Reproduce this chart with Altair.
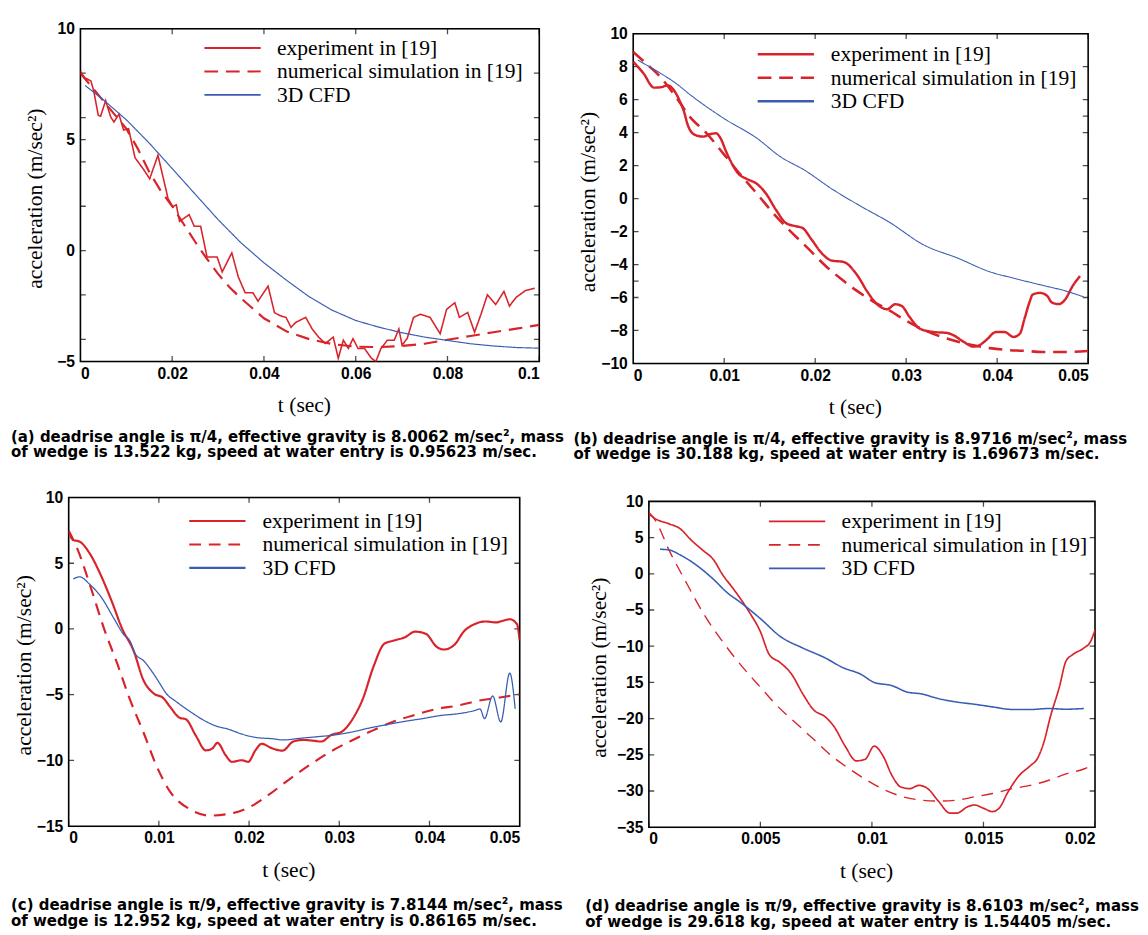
import altair as alt
import pandas as pd

SERIES = ["experiment in [19]", "numerical simulation in [19]", "3D CFD"]
RED = "#d8232a"
BLUE = "#3a5db4"
SANS = "'Liberation Sans', Arial, sans-serif"
SERIF = "'Liberation Serif', 'Times New Roman', serif"
CAPF = "'Liberation Sans Narrow', 'DejaVu Sans Condensed', sans-serif"

a_exp = [(0, 8.09), (0.0009, 7.8), (0.0023, 7.65), (0.0029, 7.2), (0.0039, 6.1), (0.0044, 6.06),
         (0.0055, 6.76), (0.0066, 6.03), (0.0073, 5.8), (0.0084, 6.15), (0.0094, 5.44), (0.0105, 5.5),
         (0.0119, 4.19), (0.0137, 3.68), (0.0151, 3.24), (0.0169, 4.3), (0.0176, 3.68), (0.0191, 2.35),
         (0.0201, 1.99), (0.0209, 2.06), (0.0216, 1.32), (0.0237, 1.62), (0.0248, 1.1), (0.0262, 1.1),
         (0.0276, -0.29), (0.0298, -0.29), (0.0309, -0.96), (0.033, -0.1), (0.0344, -1.18), (0.0359, -1.9),
         (0.0376, -1.9), (0.0387, -2.28), (0.0409, -1.6), (0.0423, -2.8), (0.0436, -2.94), (0.0448, -3.01),
         (0.0459, -3.46), (0.0469, -3.24), (0.0491, -3.01), (0.0505, -3.53), (0.0519, -3.9), (0.0534, -4.19),
         (0.0551, -3.9), (0.0562, -4.85), (0.0573, -4.04), (0.0584, -4.41), (0.0594, -3.97), (0.0605, -4.41),
         (0.0619, -4.41), (0.0634, -4.85), (0.0644, -5.0), (0.0655, -4.41), (0.0669, -4.04), (0.0684, -4.04),
         (0.0694, -3.53), (0.0701, -4.26), (0.0712, -3.97), (0.0726, -3.01), (0.0741, -2.87), (0.0762, -3.01),
         (0.0784, -3.75), (0.0798, -2.65), (0.0816, -2.35), (0.0826, -3.01), (0.0844, -2.79), (0.0859, -3.68),
         (0.0873, -2.87), (0.0887, -1.99), (0.0905, -2.43), (0.0923, -1.84), (0.0935, -2.5), (0.095, -2.1),
         (0.097, -1.8), (0.099, -1.7)]
a_num = [(0, 8.0), (0.005, 6.75), (0.01, 5.5), (0.0125, 4.6), (0.015, 3.55), (0.0175, 2.7), (0.02, 2.0),
         (0.0225, 1.2), (0.025, 0.4), (0.0275, -0.35), (0.03, -1.05), (0.0325, -1.65), (0.035, -2.15),
         (0.0375, -2.6), (0.04, -3.05), (0.045, -3.65), (0.05, -4.0), (0.055, -4.22), (0.06, -4.33),
         (0.065, -4.35), (0.07, -4.3), (0.075, -4.2), (0.08, -4.02), (0.085, -3.85), (0.09, -3.68),
         (0.095, -3.52), (0.1, -3.35)]
a_cfd = [(0.001, 7.45), (0.005, 6.8), (0.01, 5.9), (0.015, 4.85), (0.02, 3.7), (0.025, 2.55), (0.03, 1.4),
         (0.035, 0.35), (0.04, -0.55), (0.045, -1.35), (0.05, -2.1), (0.055, -2.7), (0.06, -3.15),
         (0.065, -3.45), (0.07, -3.7), (0.075, -3.9), (0.08, -4.05), (0.085, -4.2), (0.09, -4.3),
         (0.095, -4.37), (0.1, -4.4)]

b_exp = [(0, 8.3), (0.0011, 7.62), (0.0023, 6.73), (0.003, 6.75), (0.0038, 6.87), (0.0044, 6.63),
         (0.0051, 5.94), (0.0056, 5.25), (0.006, 4.46), (0.0068, 3.86), (0.0077, 3.76), (0.0084, 3.9),
         (0.0091, 3.96), (0.0096, 3.66), (0.0102, 2.87), (0.0107, 2.28), (0.0116, 1.49), (0.0125, 1.19),
         (0.0136, 0.89), (0.0146, 0.3), (0.0157, -0.69), (0.0168, -1.49), (0.0179, -1.68), (0.0186, -1.78),
         (0.0196, -2.48), (0.0207, -3.3), (0.0218, -3.76), (0.0231, -3.84), (0.0246, -4.63), (0.0257, -5.62),
         (0.0268, -6.41), (0.0279, -6.71), (0.0288, -6.41), (0.0295, -6.51), (0.0304, -7.2), (0.0315, -7.89),
         (0.033, -8.09), (0.0345, -8.15), (0.0352, -8.29), (0.0363, -8.68), (0.0374, -8.98), (0.0381, -8.88),
         (0.0388, -8.58), (0.0399, -8.09), (0.0408, -8.09), (0.0418, -8.39), (0.0425, -8.19), (0.043, -7.3),
         (0.0436, -6.21), (0.0439, -5.82), (0.0447, -5.72), (0.0455, -5.9), (0.046, -6.3), (0.0468, -6.4),
         (0.0475, -6.1), (0.0483, -5.3), (0.0491, -4.7)]
b_num = [(0, 8.9), (0.0014, 8.2), (0.0029, 7.43), (0.0046, 6.24), (0.0064, 4.85), (0.0079, 4.06),
         (0.01, 2.67), (0.0118, 1.45), (0.0136, 0.3), (0.0154, -0.89), (0.0171, -1.88), (0.0193, -3.07),
         (0.0211, -4.06), (0.0228, -4.85), (0.0246, -5.6), (0.0264, -6.25), (0.0282, -6.8), (0.03, -7.4),
         (0.0319, -7.95), (0.0337, -8.35), (0.0355, -8.65), (0.0374, -8.9), (0.0392, -9.07), (0.041, -9.18),
         (0.0428, -9.23), (0.045, -9.3), (0.0475, -9.3), (0.05, -9.25)]
b_cfd = [(0.0005, 8.4), (0.003, 7.6), (0.0046, 7.03), (0.0064, 6.24), (0.01, 4.85), (0.0136, 3.66),
         (0.0161, 2.57), (0.0189, 1.7), (0.0218, 0.6), (0.025, -0.46), (0.0282, -1.45), (0.0319, -2.8),
         (0.0357, -3.62), (0.0392, -4.44), (0.0416, -4.8), (0.0449, -5.25), (0.0475, -5.6), (0.0495, -5.96)]

c_exp = [(0, 7.39), (0.0005, 6.77), (0.0012, 6.65), (0.0023, 5.78), (0.0036, 4.04), (0.0048, 2.06),
         (0.0059, 0.07), (0.0072, -1.66), (0.0083, -3.9), (0.0094, -4.89), (0.0105, -5.26), (0.0112, -5.88),
         (0.0123, -6.75), (0.013, -6.87), (0.0141, -8.11), (0.0152, -9.23), (0.0159, -9.1), (0.0165, -8.66),
         (0.0174, -9.6), (0.0181, -10.1), (0.0192, -9.98), (0.0199, -10.1), (0.0207, -9.23), (0.0214, -8.73),
         (0.0225, -9.06), (0.0237, -9.25), (0.0249, -8.56), (0.026, -8.44), (0.0272, -8.5), (0.028, -8.56),
         (0.0291, -8.06), (0.0303, -7.8), (0.0315, -6.82), (0.0326, -5.33), (0.0338, -2.85), (0.035, -1.12),
         (0.0361, -0.87), (0.0373, -0.62), (0.0384, -0.2), (0.0396, -0.37), (0.0408, -1.36), (0.0416, -1.56),
         (0.0427, -1.24), (0.0439, -0.12), (0.045, 0.37), (0.0462, 0.57), (0.0474, 0.5), (0.0481, 0.62),
         (0.0489, 0.74), (0.0497, 0.37), (0.05, -0.87)]
c_num = [(0, 7.5), (0.001, 6.03), (0.0025, 3.05), (0.0039, 0.07), (0.0054, -2.66), (0.0068, -5.38),
         (0.0083, -7.87), (0.0097, -10.35), (0.0112, -12.33), (0.0134, -13.7), (0.0156, -14.19),
         (0.0177, -14.07), (0.0199, -13.6), (0.0222, -12.6), (0.0245, -11.41), (0.0268, -10.3), (0.0291, -9.3),
         (0.0315, -8.44), (0.0338, -7.69), (0.0361, -7.02), (0.0384, -6.53), (0.0408, -6.08), (0.0431, -5.83),
         (0.0454, -5.46), (0.0478, -5.21), (0.05, -4.96)]
c_cfd = [(0.0005, 3.8), (0.0012, 3.97), (0.0023, 3.42), (0.0036, 2.43), (0.005, 0.82), (0.0061, -0.42),
         (0.0068, -0.92), (0.0074, -1.91), (0.0083, -2.41), (0.0094, -3.4), (0.0101, -4.14), (0.0108, -4.89),
         (0.0119, -5.51), (0.0134, -6.25), (0.0148, -6.87), (0.0163, -7.37), (0.0177, -7.62), (0.0192, -7.99),
         (0.0207, -8.24), (0.0228, -8.36), (0.0237, -8.44), (0.0257, -8.31), (0.0276, -8.19), (0.0295, -8.06),
         (0.0315, -7.82), (0.0334, -7.52), (0.0353, -7.27), (0.0373, -7.02), (0.0392, -6.82), (0.0412, -6.58),
         (0.0431, -6.45), (0.045, -6.2), (0.0456, -6.08), (0.0461, -6.82), (0.047, -5.09), (0.0479, -7.07),
         (0.0489, -3.35), (0.0495, -6.08)]

d_exp = [(0, 8.27), (0.0003, 7.59), (0.0009, 6.91), (0.0014, 6.23), (0.0019, 4.65), (0.0024, 3.3),
         (0.0029, 1.94), (0.0033, -0.09), (0.0038, -2.12), (0.0045, -5.28), (0.005, -7.99), (0.0054, -11.16),
         (0.0059, -12.29), (0.0064, -13.87), (0.0069, -16.58), (0.0074, -18.83), (0.0079, -19.74),
         (0.0083, -21.09), (0.0088, -23.8), (0.0093, -25.84), (0.0097, -25.61), (0.0101, -23.8),
         (0.0105, -25.16), (0.0109, -27.87), (0.0113, -29.45), (0.0117, -29.67), (0.0121, -29.22),
         (0.0125, -29.67), (0.013, -31.48), (0.0135, -33.06), (0.0138, -33.06), (0.0143, -32.16),
         (0.0146, -31.93), (0.015, -32.38), (0.0154, -32.84), (0.0157, -32.38), (0.0161, -30.13),
         (0.0166, -27.87), (0.0171, -26.51), (0.0174, -25.61), (0.0177, -23.35), (0.018, -19.74),
         (0.0184, -15.67), (0.0187, -12.06), (0.019, -11.16), (0.0195, -10.25), (0.0198, -9.35), (0.02, -7.77)]
d_num = [(0, 8.49), (0.0003, 7.36), (0.0009, 3.3), (0.0016, -0.77), (0.0025, -5.74), (0.0033, -9.35),
         (0.0041, -12.51), (0.005, -15.67), (0.0058, -18.38), (0.0066, -20.64), (0.0074, -22.9), (0.0082, -25.16),
         (0.009, -26.96), (0.0098, -28.55), (0.0106, -29.9), (0.0114, -30.8), (0.0122, -31.26), (0.013, -31.39),
         (0.0138, -31.26), (0.0146, -30.8), (0.0154, -30.35), (0.0163, -29.67), (0.0171, -29.22),
         (0.0179, -28.55), (0.0187, -27.64), (0.0195, -26.96), (0.02, -26.29)]
d_cfd = [(0.0005, 3.39), (0.0009, 3.3), (0.0014, 2.62), (0.002, 1.49), (0.0029, -0.77), (0.0035, -2.57),
         (0.0041, -3.93), (0.005, -6.19), (0.0059, -8.67), (0.0069, -10.25), (0.0079, -11.61), (0.0087, -12.96),
         (0.0095, -13.87), (0.0101, -15.0), (0.0109, -15.45), (0.0116, -16.35), (0.0122, -16.58),
         (0.013, -17.25), (0.0138, -17.71), (0.0146, -18.02), (0.0154, -18.38), (0.0163, -18.74),
         (0.0171, -18.74), (0.0179, -18.61), (0.0187, -18.7), (0.0195, -18.61)]

a_xlab = [0, 0.02, 0.04, 0.06, 0.08, 0.1]
a_ylab = [-5, 0, 5, 10]
a_ytick = [-4, -2, 0, 2, 4, 5, 6, 8]
b_xlab = [0, 0.01, 0.02, 0.03, 0.04, 0.05]
b_ylab = [-10, -8, -6, -4, -2, 0, 2, 4, 6, 8, 10]
b_ytick = [-8, -6, -5, -4, -2, 0, 2, 4, 5, 6, 8]
c_xlab = [0, 0.01, 0.02, 0.03, 0.04, 0.05]
c_ylab = [-15, -10, -5, 0, 5, 10]
c_ytick = [-10, -5, 0, 5]
d_xlab = [0, 0.005, 0.01, 0.015, 0.02]
d_ylab = [-35, -30, -25, -20, -15, -10, -5, 0, 5, 10]
d_ytick = [-30, -25, -20, -15, -10, -5, 0, 5]

captions = {
    "a": ["(a) deadrise angle is \u03c0/4, effective gravity is 8.0062 m/sec\u00b2, mass",
          "of wedge is 13.522 kg, speed at water entry is 0.95623 m/sec."],
    "b": ["(b) deadrise angle is \u03c0/4, effective gravity is 8.9716 m/sec\u00b2, mass",
          "of wedge is 30.188 kg, speed at water entry is 1.69673 m/sec."],
    "c": ["(c) deadrise angle is \u03c0/9, effective gravity is 7.8144 m/sec\u00b2, mass",
          "of wedge is 12.952 kg, speed at water entry is 0.86165 m/sec."],
    "d": ["(d) deadrise angle is \u03c0/9, effective gravity is 8.6103 m/sec\u00b2, mass",
          "of wedge is 29.618 kg, speed at water entry is 1.54405 m/sec."],
}


def spacer(w, h):
    return alt.Chart(pd.DataFrame({"s": [0]})).mark_point(opacity=0).encode(
        x=alt.X("s:Q", axis=None), y=alt.Y("s:Q", axis=None)
    ).properties(width=w, height=h, view=alt.ViewBackground(stroke="transparent"))


def panel(exp, num, cfd, xdom, xlab, ydom, ylab, ytick, w, h, widths, dash, legx, legy,
          caption, cap_dx, cap_off, interp, symw, ytx, ylabel_expr=None):
    xs = alt.Scale(domain=xdom, nice=False, zero=False, padding=0)
    ys = alt.Scale(domain=ydom, nice=False, zero=False, padding=0)

    leg = alt.Legend(orient="none", legendX=legx + 17, legendY=legy, title=None,
                     symbolType="M-2.5,0H2.5", symbolSize=529, symbolStrokeWidth=symw,
                     labelFont=SERIF, labelFontSize=22, labelColor="black", labelLimit=400,
                     rowPadding=0, labelOffset=33, padding=0)
    lab = dict(labelFont=SANS, labelFontSize=16, labelFontWeight="bold", labelColor="black",
               grid=False, ticks=False, tickSize=0, domain=False, labelOverlap=False, format="~r",
               titleFont=SERIF, titleFontSize=22, titleFontWeight="normal", titleColor="black",
               titleBaseline="middle", titleAlign="center")
    ylab_kw = dict(lab)
    if ylabel_expr:
        ylab_kw["labelExpr"] = ylabel_expr
    xaxis = alt.Axis(orient="bottom", values=xlab, labelPadding=4, title="t (sec)",
                     titleX=w / 2 - 6, titleY=44, **lab)
    yaxis = alt.Axis(orient="left", values=ylab, labelPadding=6,
                     title="acceleration (m/sec\u00b2)", titleX=ytx, titleY=h / 2 + 3, titleAngle=-90, **ylab_kw)

    def X(field):
        return alt.X(field, type="quantitative", scale=xs, axis=xaxis)

    def Y(field):
        return alt.Y(field, type="quantitative", scale=ys, axis=yaxis)

    layers = []
    # frame and inward ticks first (built from the axis domains and tick values)
    fr = pd.DataFrame({"t0": [xdom[0]], "t1": [xdom[1]], "v0": [ydom[0]], "v1": [ydom[1]]})
    layers.append(alt.Chart(fr).mark_rect(fillOpacity=0, stroke="black", strokeWidth=1.6)
                  .encode(x=X("t0"), x2="t1:Q", y=Y("v0"), y2="v1:Q"))
    xt = pd.DataFrame({"t": xlab * 2, "v": [ydom[0]] * len(xlab) + [ydom[1]] * len(xlab)})
    yt = pd.DataFrame({"t": [xdom[0]] * len(ytick) + [xdom[1]] * len(ytick), "v": ytick * 2})
    layers.append(alt.Chart(xt).mark_tick(orient="vertical", size=11, thickness=1.3, color="black", clip=True)
                  .encode(x=X("t"), y=Y("v")))
    layers.append(alt.Chart(yt).mark_tick(orient="horizontal", size=11, thickness=1.3, color="black", clip=True)
                  .encode(x=X("t"), y=Y("v")))
    for name, pts, sw in zip(SERIES, [exp, num, cfd], widths):
        sdf = pd.DataFrame({"t": [p[0] for p in pts], "v": [p[1] for p in pts], "series": name})
        layers.append(
            alt.Chart(sdf).mark_line(clip=True, interpolate=interp, strokeWidth=sw).encode(
                x=X("t"), y=Y("v"),
                color=alt.Color("series:N", scale=alt.Scale(domain=SERIES, range=[RED, RED, BLUE]), legend=leg),
                strokeDash=alt.StrokeDash("series:N", scale=alt.Scale(domain=SERIES, range=dash), legend=leg),
            )
        )
    return alt.layer(*layers).properties(
        width=w, height=h,
        title=alt.TitleParams(text=caption, orient="bottom", anchor="start", frame="group", dx=cap_dx,
                              offset=cap_off, font=CAPF, fontSize=17, fontWeight="bold",
                              color="black", lineHeight=16),
    )


pa = panel(a_exp, a_num, a_cfd, [0, 0.1], a_xlab, [-5, 10], a_ylab, a_ytick, 469, 340,
           [1.6, 2.2, 1.2], [[1, 0], [14, 8], [1, 0]], 126, 7, captions["a"], -71, 14, "linear", 2, -47)
pb = panel(b_exp, b_num, b_cfd, [0, 0.05], b_xlab, [-10, 10], b_ylab, b_ytick, 465, 337,
           [2.5, 2.6, 1.1], [[1, 0], [14, 8], [1, 0]], 126, 8, captions["b"], -61, 14, "monotone", 2.6, -47)
pc = panel(c_exp, c_num, c_cfd, [0, 0.05], c_xlab, [-15, 10], c_ylab, c_ytick, 461, 336,
           [2.2, 2.2, 1.3], [[1, 0], [12, 8], [1, 0]], 122, 11, captions["c"], -59, 18, "monotone", 2.2, -46)
pd_ = panel(d_exp, d_num, d_cfd, [0, 0.02], d_xlab, [-35, 10], d_ylab, d_ytick, 456, 333,
            [1.7, 1.4, 1.6], [[1, 0], [12, 8], [1, 0]], 122, 8, captions["d"], -65, 18, "monotone", 1.8, -51,
            ylabel_expr="datum.value == -15 ? '15' : datum.label")

IND = dict(color="independent", strokeDash="independent")

row1 = alt.hconcat(
    spacer(71, 1), pa, spacer(96, 1),
    alt.vconcat(spacer(1, 5), pb, spacing=0, bounds="flush").resolve_scale(**IND),
    spacing=0, bounds="flush",
).resolve_scale(**IND)
row2 = alt.hconcat(
    spacer(59, 1), pc, spacer(132, 1),
    alt.vconcat(spacer(1, 4), pd_, spacing=0, bounds="flush").resolve_scale(**IND),
    spacing=0, bounds="flush",
).resolve_scale(**IND)

chart = alt.vconcat(spacer(1, 10), row1, spacer(1, 479), row2, spacing=0, bounds="flush").resolve_scale(
    **IND
).properties(padding=0, background="white")

chart.save("out.html", embed_options={"renderer": "svg", "actions": False})
